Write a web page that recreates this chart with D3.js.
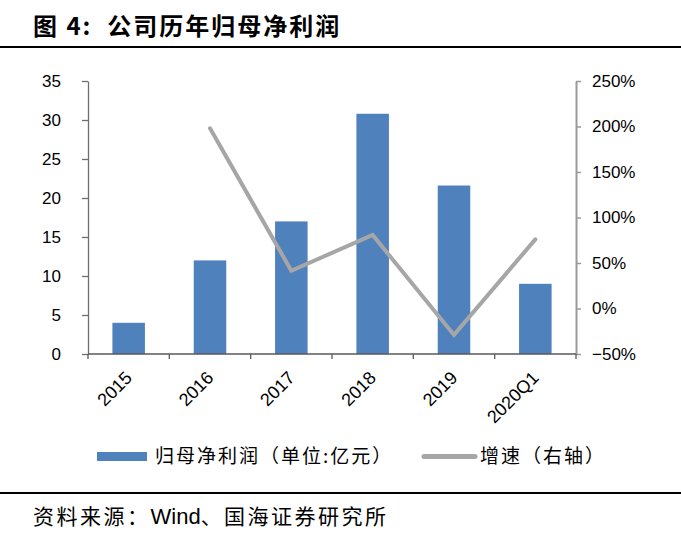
<!DOCTYPE html>
<html lang="zh">
<head>
	<meta charset="utf-8">
	<title>公司历年归母净利润</title>
	<script src="https://cdn.jsdelivr.net/npm/d3@7"></script>
	<style>
		body { margin: 0; background: #fff; }
		.tick text { font-family: "Liberation Sans", Arial, sans-serif; font-size: 17px; fill: #000; }
		.cjk { font-family: "Noto Sans CJK SC", sans-serif; white-space: pre; }
	</style>
</head>
<body>
	<div id="chart"></div>

	<script>
		// data
		var years = ["2015", "2016", "2017", "2018", "2019", "2020Q1"];
		var profit = [4.0, 12.0, 17.0, 30.8, 21.6, 9.0];     // 亿元
		var growth = [null, 198, 41.5, 80.8, -29, 76];       // %
		var leftTicks = [0, 5, 10, 15, 20, 25, 30, 35];
		var rightTicks = [-50, 0, 50, 100, 150, 200, 250];

		var w = 681, h = 546;
		var pLeft = 88, pRight = 576, pTop = 81, pBottom = 354;

		var svg = d3.select("#chart").append("svg")
			.attr("width", w)
			.attr("height", h);

		// title + rules
		svg.append("text")
			.attr("class", "cjk")
			.attr("x", 33).attr("y", 35)
			.attr("font-size", "24px")
			.attr("font-weight", "bold")
			.attr("letter-spacing", "2px")
			.text("图 4:  公司历年归母净利润");
		svg.append("line").attr("x1", 0).attr("x2", w).attr("y1", 47).attr("y2", 47)
			.attr("stroke", "#000").attr("stroke-width", 2);
		svg.append("line").attr("x1", 0).attr("x2", w).attr("y1", 493).attr("y2", 493)
			.attr("stroke", "#000").attr("stroke-width", 2);
		var src = svg.append("text")
			.attr("class", "cjk")
			.attr("x", 33).attr("y", 524)
			.attr("font-size", "21px")
			.attr("letter-spacing", "2.5px");
		src.append("tspan").text("资料来源：");
		src.append("tspan").attr("font-family", "Liberation Sans, Arial, sans-serif")
			.attr("font-size", "22px").attr("letter-spacing", "0px").text("Wind");
		src.append("tspan").text("、国海证券研究所");

		var x = d3.scaleBand().domain(years).range([pLeft, pRight]).padding(0);
		var y = d3.scaleLinear().domain([0, 35]).range([pBottom, pTop]);
		var y2 = d3.scaleLinear().domain([-50, 250]).range([pBottom, pTop]);

		// bars
		var bw = x.bandwidth() * 0.4;
		svg.selectAll(".bar")
			.data(years)
			.enter()
			.append("rect")
			.attr("class", "bar")
			.attr("x", function(d) { return x(d) + x.bandwidth() / 2 - bw / 2; })
			.attr("y", function(d, i) { return y(profit[i]); })
			.attr("width", bw)
			.attr("height", function(d, i) { return pBottom - y(profit[i]); })
			.attr("fill", "#4f81bd");

		// left axis
		var ga = svg.append("g")
			.attr("transform", "translate(" + pLeft + ",0)")
			.call(d3.axisLeft(y).tickValues(leftTicks).tickSize(6).tickPadding(21).tickSizeOuter(0));
		ga.select(".domain").attr("stroke", "#6e6e6e").attr("stroke-width", 1.3);
		ga.selectAll(".tick line").attr("stroke", "#6e6e6e").attr("stroke-width", 1.3);

		// right axis
		var gb = svg.append("g")
			.attr("transform", "translate(" + pRight + ",0)")
			.call(d3.axisRight(y2).tickValues(rightTicks).tickSize(5).tickPadding(11).tickSizeOuter(0)
				.tickFormat(function(d) { return (d < 0 ? "\u2212" + (-d) : d) + "%"; }));
		gb.select(".domain").attr("stroke", "#9a9a9a").attr("stroke-width", 2);
		gb.selectAll(".tick line").attr("stroke", "#9a9a9a").attr("stroke-width", 1.5);

		// x axis
		var gx = svg.append("g").attr("transform", "translate(0," + pBottom + ")");
		gx.append("line").attr("x1", pLeft).attr("x2", pRight)
			.attr("stroke", "#595959").attr("stroke-width", 1.3);
		var bounds = years.map(function(d) { return x(d); }).concat([pRight]);
		gx.selectAll(".xt")
			.data(bounds)
			.enter()
			.append("line")
			.attr("x1", function(d) { return d; })
			.attr("x2", function(d) { return d; })
			.attr("y1", 0).attr("y2", 5)
			.attr("stroke", "#595959").attr("stroke-width", 1.3);
		gx.selectAll(".xl")
			.data(years)
			.enter()
			.append("text")
			.attr("font-family", "Liberation Sans, Arial, sans-serif")
			.attr("font-size", "18px")
			.attr("text-anchor", "end")
			.attr("transform", function(d) {
				return "translate(" + (x(d) + x.bandwidth() / 2 + 4.5) + ",25) rotate(-45)";
			})
			.text(function(d) { return d; });

		// growth line
		var line = d3.line()
			.defined(function(d) { return d[1] !== null; })
			.x(function(d) { return x(d[0]) + x.bandwidth() / 2; })
			.y(function(d) { return y2(d[1]); });
		svg.append("path")
			.datum(d3.zip(years, growth))
			.attr("d", line)
			.attr("fill", "none")
			.attr("stroke", "#a6a6a6")
			.attr("stroke-width", 4)
			.attr("stroke-linecap", "round")
			.attr("stroke-linejoin", "miter");

		// legend
		var lg = svg.append("g").attr("class", "cjk").attr("font-size", "19px").attr("letter-spacing", "2px");
		lg.append("rect").attr("x", 97).attr("y", 452).attr("width", 50).attr("height", 9).attr("fill", "#4f81bd");
		lg.append("text").attr("x", 155).attr("y", 463).text("归母净利润（单位:亿元）");
		lg.append("line").attr("x1", 424).attr("x2", 475).attr("y1", 456.5).attr("y2", 456.5)
			.attr("stroke", "#a6a6a6").attr("stroke-width", 5).attr("stroke-linecap", "round");
		lg.append("text").attr("x", 480).attr("y", 463).text("增速（右轴）");
	</script>
</body>
</html>
